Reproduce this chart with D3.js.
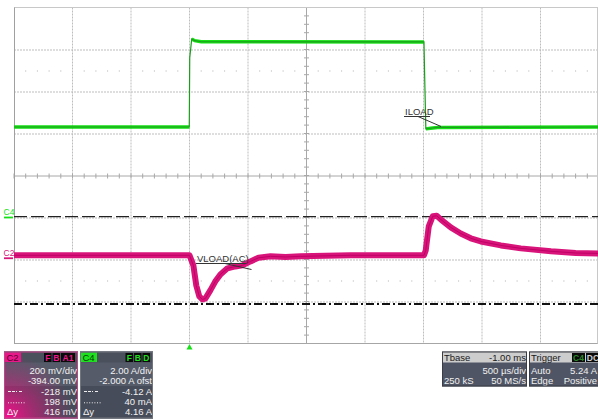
<!DOCTYPE html>
<html>
<head>
<meta charset="utf-8">
<script src="https://cdn.jsdelivr.net/npm/d3@7"></script>
<style>
  html, body { margin: 0; padding: 0; background: #fff; }
  svg { display: block; font-family: "Liberation Sans", Arial, sans-serif; }
</style>
</head>
<body>
<svg id="scope" width="598" height="420"></svg>
<script>
// time base: 500 us/div, 10 div, trigger at 0
const timeDomainMs = [-1.5, 3.5];
const c2MvPerDiv = 200, c2OffsetMv = -394;
const c4APerDiv = 2, c4OffsetA = -2;

// C4 : ILOAD (A)
const iLoadTime = [-1.5, -0.002, 0.002, 0.019, 0.045, 0.1, 2.004, 2.012, 2.02, 2.06, 2.12, 3.5];
const iLoadAmps = [4.31, 4.31, 7.6, 8.5, 8.42, 8.37, 8.36, 6.2, 4.22, 4.25, 4.29, 4.31];
const iLoadFlat = [1, 1, 0, 1, 1, 1, 1, 0, 1, 1, 1, 1];

// C2 : VLOAD(AC) (mV)
const vLoadTime = [-1.5, 0.0, 0.033, 0.058, 0.084, 0.11, 0.135, 0.178, 0.221, 0.264, 0.324, 0.392, 0.452,
                   0.521, 0.589, 0.692, 0.82, 0.949, 1.377, 2.004, 2.019, 2.045, 2.079, 2.113, 2.147,
                   2.233, 2.318, 2.404, 2.49, 2.661, 2.832, 3.09, 3.30, 3.5];
const vLoadMv   = [14, 14, -34, -130, -182, -196, -192, -153, -110, -77, -48, -39, -34,
                   -15, 2, 9, 6, 9, 14, 14, 37, 152, 200, 202, 185,
                   147, 118, 95, 80, 61, 47, 33, 25, 23];

// horizontal cursors (C2 scale)
const cursorMv = [198, -218];

// readout panels
const c2Rows = [["", "200 mV/div"], ["", "-394.00 mV"], ["dashdot", "-218 mV"], ["dots", "198 mV"], ["Δy", "416 mV"]];
const c4Rows = [["", "2.00 A/div"], ["", "-2.000 A ofst"], ["dashdot", "-4.12 A"], ["dots", "40 mA"], ["Δy", "4.16 A"]];
const tbaseRows = [["Tbase", "-1.00 ms"], ["", "500 µs/div"], ["250 kS", "50 MS/s"]];
const trigRows = [["Trigger", ""], ["Auto", "5.24 A"], ["Edge", "Positive"]];

const plot = { left: 14, right: 599, top: 7.5, bottom: 343.5 };
const svg = d3.select("#scope");

const x = d3.scaleLinear().domain(timeDomainMs).range([plot.left, plot.right]);
const yDiv = d3.scaleLinear().domain([-4, 4]).range([plot.bottom, plot.top]);
const yC2 = d3.scaleLinear()
    .domain([-4 * c2MvPerDiv - c2OffsetMv, 4 * c2MvPerDiv - c2OffsetMv])
    .range([plot.bottom, plot.top]);
const yC4 = d3.scaleLinear()
    .domain([-4 * c4APerDiv - c4OffsetA, 4 * c4APerDiv - c4OffsetA])
    .range([plot.bottom, plot.top]);

const GREEN = "#16e016", MAGENTA = "#d8147a";

// ---- grid ----
const grid = svg.append("g");
const divIdx = d3.range(0, 11);
const tAt = i => timeDomainMs[0] + i * 0.5;

grid.selectAll(".vg").data(divIdx.filter(i => i > 0 && i !== 5)).enter()
    .append("line")
    .attr("x1", i => x(tAt(i))).attr("x2", i => x(tAt(i)))
    .attr("y1", plot.top).attr("y2", plot.bottom)
    .attr("stroke", "#bdbdbd").attr("stroke-dasharray", "2,1");

grid.selectAll(".hg").data([-3, -2, -1, 1, 2, 3]).enter()
    .append("line")
    .attr("x1", plot.left).attr("x2", plot.right)
    .attr("y1", d => yDiv(d) + 0.5).attr("y2", d => yDiv(d) + 0.5)
    .attr("stroke", "#bdbdbd").attr("stroke-dasharray", "2,1");

// sparse dot rows
const minor = d3.range(0, 51).filter(i => i % 5 !== 0);
[2.5, -2.5].forEach(r => {
    grid.selectAll(null).data(minor).enter()
        .append("rect")
        .attr("x", i => x(timeDomainMs[0] + i * 0.1) - 0.5)
        .attr("y", yDiv(r))
        .attr("width", 1).attr("height", 1)
        .attr("fill", "#b0b0b0");
});

// centre axes with ticks
const cx = x(tAt(5)), cy = yDiv(0) + 0.5;
grid.append("line").attr("x1", plot.left).attr("x2", plot.right).attr("y1", cy).attr("y2", cy).attr("stroke", "#a8a8a8");
grid.append("line").attr("x1", cx).attr("x2", cx).attr("y1", plot.top).attr("y2", plot.bottom).attr("stroke", "#a8a8a8");
grid.selectAll(null).data(d3.range(0, 51)).enter()
    .append("line")
    .attr("x1", i => x(timeDomainMs[0] + i * 0.1)).attr("x2", i => x(timeDomainMs[0] + i * 0.1))
    .attr("y1", cy - 2.5).attr("y2", cy + 2.5)
    .attr("stroke", "#a8a8a8");
grid.selectAll(null).data(d3.range(-20, 21)).enter()
    .append("line")
    .attr("x1", cx - 2.5).attr("x2", cx + 2.5)
    .attr("y1", j => yDiv(j * 0.2)).attr("y2", j => yDiv(j * 0.2))
    .attr("stroke", "#a8a8a8");

// frame
grid.append("line").attr("x1", plot.left).attr("x2", 598).attr("y1", plot.top).attr("y2", plot.top).attr("stroke", "#c8c8c8");
grid.append("line").attr("x1", plot.left).attr("x2", 598).attr("y1", plot.bottom).attr("y2", plot.bottom).attr("stroke", "#a6a6a6");
grid.append("line").attr("x1", plot.left + 0.5).attr("x2", plot.left + 0.5).attr("y1", plot.top).attr("y2", plot.bottom).attr("stroke", "#a0a0a0");
grid.append("line").attr("x1", 597.5).attr("x2", 597.5).attr("y1", plot.top).attr("y2", plot.bottom).attr("stroke", "#c8c8c8");

// ---- cursors ----
svg.append("line")
    .attr("x1", plot.left).attr("x2", 598)
    .attr("y1", yC2(cursorMv[0])).attr("y2", yC2(cursorMv[0]))
    .attr("stroke", "#222").attr("stroke-width", 1.3).attr("stroke-dasharray", "13,4");
svg.append("line")
    .attr("x1", plot.left).attr("x2", 598)
    .attr("y1", yC2(cursorMv[1])).attr("y2", yC2(cursorMv[1]))
    .attr("stroke", "#111").attr("stroke-width", 1.8).attr("stroke-dasharray", "8,3,2,3");

// ---- traces ----
const c4Data = iLoadTime.map((t, i) => ({ t, v: iLoadAmps[i], flat: iLoadFlat[i] }));
const c2Data = vLoadTime.map((t, i) => ({ t, v: vLoadMv[i] }));

svg.append("path")
    .datum(c2Data)
    .attr("fill", "none").attr("stroke", MAGENTA).attr("stroke-width", 6)
    .attr("stroke-linejoin", "round")
    .attr("d", d3.line().x(d => x(d.t)).y(d => yC2(d.v)));
svg.append("path")
    .datum(c2Data)
    .attr("fill", "none").attr("stroke", "#c00066").attr("stroke-width", 1)
    .attr("d", d3.line().x(d => x(d.t)).y(d => yC2(d.v)));

svg.append("path")
    .datum(c4Data)
    .attr("fill", "none").attr("stroke", GREEN).attr("stroke-width", 3.5)
    .attr("d", d3.line().defined(d => d.flat).x(d => x(d.t)).y(d => yC4(d.v)));
svg.append("path")
    .datum(c4Data)
    .attr("fill", "none").attr("stroke", "#1c9c1c").attr("stroke-width", 1.2)
    .attr("d", d3.line().x(d => x(d.t)).y(d => yC4(d.v)));

// ---- trace labels ----
function traceLabel(text, tx, ty, ulWidth, ex, ey, lx) {
    svg.append("text").attr("x", tx).attr("y", ty)
        .attr("font-size", 9.5).attr("fill", "#333").text(text);
    svg.append("line").attr("x1", tx - 1).attr("x2", tx - 1 + ulWidth)
        .attr("y1", ty + 1.5).attr("y2", ty + 1.5).attr("stroke", "#333");
    svg.append("line").attr("x1", lx).attr("y1", ty + 1.5).attr("x2", ex).attr("y2", ey)
        .attr("stroke", "#333");
}
traceLabel("ILOAD", 405, 115, 26, x(2.15), yC4(4.31) - 0.5, 418);
traceLabel("VLOAD(AC)", 197, 262, 50, x(0.53), 269.5, 225);

// ---- channel markers ----
[[yC4(0), "C4", GREEN], [yC2(0), "C2", MAGENTA]].forEach(([y, name, col]) => {
    svg.append("text").attr("x", 3.5).attr("y", y - 2.5)
        .attr("font-size", "8.5px").attr("text-anchor", "start")
        .attr("fill", col).text(name);
    svg.append("line").attr("x1", 4).attr("x2", 13).attr("y1", y).attr("y2", y)
        .attr("stroke", col).attr("stroke-width", 1.8);
});

// trigger marker
const tx0 = x(0);
svg.append("path")
    .attr("d", `M${tx0},${plot.bottom + 0.5}L${tx0 - 3},${plot.bottom + 6}L${tx0 + 3},${plot.bottom + 6}Z`)
    .attr("fill", GREEN);

// ---- readout panels ----
const defs = svg.append("defs");
const glow = defs.append("radialGradient").attr("id", "c2glow")
    .attr("cx", "0%").attr("cy", "100%").attr("r", "95%");
glow.append("stop").attr("offset", "0%").attr("stop-color", "#ff0a90").attr("stop-opacity", 1);
glow.append("stop").attr("offset", "45%").attr("stop-color", "#e0147f").attr("stop-opacity", 0.55);
glow.append("stop").attr("offset", "100%").attr("stop-color", "#e0147f").attr("stop-opacity", 0);
defs.append("clipPath").attr("id", "clipC2").append("rect").attr("x", 4).attr("y", 351).attr("width", 74).attr("height", 68);
defs.append("clipPath").attr("id", "clipC4").append("rect").attr("x", 80).attr("y", 351).attr("width", 73).attr("height", 68);

const rowY = [370.5, 381, 391.5, 401.8, 412];

function chanPanel(x0, w, clip, name, col, badgeFg, flags, rows, hasGlow) {
    const p = svg.append("g").attr("clip-path", `url(#${clip})`);
    p.append("rect").attr("x", x0).attr("y", 351.5).attr("width", w).attr("height", 67)
        .attr("fill", "#555b69");
    p.append("rect").attr("x", x0).attr("y", 386).attr("width", w).attr("height", 32.5)
        .attr("fill", "#464c59");
    p.append("rect").attr("x", x0).attr("y", 351.5).attr("width", w).attr("height", 11)
        .attr("fill", "#4b505d");
    if (hasGlow) {
        p.append("rect").attr("x", x0).attr("y", 351.5).attr("width", w).attr("height", 67)
            .attr("fill", "url(#c2glow)");
    }
    p.append("rect").attr("x", x0 + 1).attr("y", 352.5).attr("width", 16).attr("height", 9.5).attr("fill", col);
    p.append("text").attr("x", x0 + 2.5).attr("y", 360.5).attr("font-size", 9.5).attr("fill", badgeFg).text(name);
    let bx = x0 + w - 2;
    flags.slice().reverse().forEach(f => {
        const bw = f.length > 1 ? 14 : 7.5;
        bx -= bw + 1;
        p.append("rect").attr("x", bx).attr("y", 353).attr("width", bw).attr("height", 9).attr("fill", "#0a0a0a");
        p.append("text").attr("x", bx + bw / 2).attr("y", 360.5).attr("text-anchor", "middle")
            .attr("font-size", 8.5).attr("font-weight", "bold").attr("fill", col).text(f);
    });
    rows.forEach(([sym, val], i) => {
        const y = rowY[i];
        p.append("text").attr("x", x0 + w - 1).attr("y", y + 3.3).attr("text-anchor", "end")
            .attr("font-size", 9.5).attr("fill", "#f2f2f2").text(val);
        if (sym === "dashdot") {
            p.append("line").attr("x1", x0 + 4).attr("x2", x0 + 19).attr("y1", y).attr("y2", y)
                .attr("stroke", "#eee").attr("stroke-dasharray", "3,1,3,1,1,2");
        } else if (sym === "dots") {
            p.append("line").attr("x1", x0 + 4).attr("x2", x0 + 22).attr("y1", y + 1).attr("y2", y + 1)
                .attr("stroke", "#eee").attr("stroke-dasharray", "1,1.6");
        } else if (sym) {
            p.append("text").attr("x", x0 + 3).attr("y", y + 3.3)
                .attr("font-size", 9.5).attr("fill", "#f2f2f2").text(sym);
        }
    });
    p.append("rect").attr("x", x0 + 0.5).attr("y", 352).attr("width", w - 1).attr("height", 66)
        .attr("fill", "none").attr("stroke", hasGlow ? "#c8408c" : "#70757f");
}
chanPanel(4, 74, "clipC2", "C2", "#e8188a", "#5a0030", ["F", "B", "A1"], c2Rows, true);
chanPanel(80, 73, "clipC4", "C4", "#1ee01e", "#0a400a", ["F", "B", "D"], c4Rows, false);

function infoPanel(x0, w, rows, badges) {
    const p = svg.append("g");
    p.append("rect").attr("x", x0).attr("y", 351.5).attr("width", w).attr("height", 35).attr("fill", "#4f5564");
    p.append("rect").attr("x", x0).attr("y", 351.5).attr("width", w).attr("height", 11).attr("fill", "#cdcdcd");
    rows.forEach(([l, r], i) => {
        const y = [360.5, 373.5, 384][i];
        const c = i === 0 ? "#1a1a1a" : "#f0f0f0";
        if (l) p.append("text").attr("x", x0 + 2).attr("y", y).attr("font-size", 9.5).attr("fill", c).text(l);
        if (r) p.append("text").attr("x", Math.min(x0 + w - 1, 597)).attr("y", y).attr("text-anchor", "end")
            .attr("font-size", 9.5).attr("fill", c).text(r);
    });
    (badges || []).forEach(([bx, bw, label, fg]) => {
        p.append("rect").attr("x", bx).attr("y", 353).attr("width", bw).attr("height", 9).attr("fill", "#0a0a0a");
        p.append("text").attr("x", bx + bw / 2).attr("y", 360.5).attr("text-anchor", "middle")
            .attr("font-size", 8.5).attr("font-weight", "bold").attr("fill", fg).text(label);
    });
    p.append("rect").attr("x", x0 + 0.5).attr("y", 352).attr("width", w - 1).attr("height", 34)
        .attr("fill", "none").attr("stroke", "#3a3d44");
}
infoPanel(442, 85, tbaseRows);
infoPanel(529, 74, trigRows, [[572, 13, "C4", "#2a8a2a"], [586, 14, "DC", "#d0d0d0"]]);
</script>
</body>
</html>
